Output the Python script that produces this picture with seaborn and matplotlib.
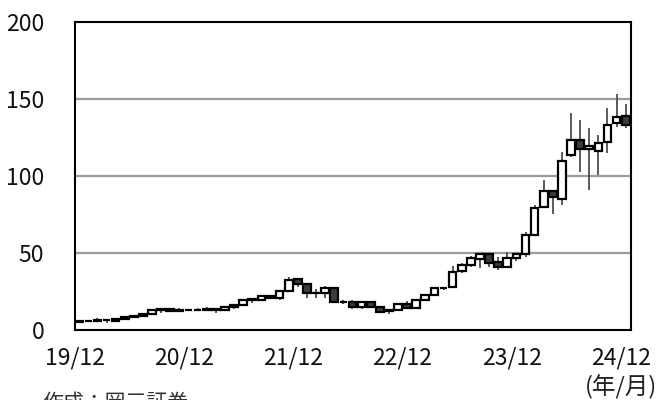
import numpy as np
import pandas as pd
import matplotlib
matplotlib.use("Agg")
import matplotlib.pyplot as plt
import seaborn as sns

# Monthly candles, 2019/12 - 2024/12 (split-adjusted, USD)
months = pd.period_range("2019-12", "2024-12", freq="M").strftime("%y/%m").tolist()

open_ = [5.42, 5.97, 5.95, 6.93, 6.17, 7.25, 8.95, 9.51, 10.90, 13.60, 13.70, 12.65,
         13.52, 13.12, 13.05, 13.75, 13.45, 14.93, 16.35, 20.03, 19.73, 22.55, 20.78, 25.78,
         33.40, 29.80, 24.50, 24.40, 27.40, 18.70, 18.60, 15.20, 18.40, 14.90, 12.30, 13.40,
         16.90, 14.40, 19.60, 23.00, 27.50, 27.80, 38.40, 42.50, 46.50, 49.70, 44.00, 40.90,
         46.60, 49.20, 62.10, 80.00, 90.30, 85.20, 113.60, 123.50, 117.50, 116.20, 121.80, 134.70,
         139.20]
high = [6.00, 6.47, 7.90, 7.25, 7.60, 9.12, 9.80, 10.92, 13.57, 14.74, 14.37, 14.60,
        13.75, 14.63, 15.35, 14.00, 16.13, 16.40, 20.25, 20.88, 23.00, 23.05, 25.65, 34.62,
        34.20, 30.70, 26.60, 28.90, 27.90, 19.80, 19.50, 19.00, 19.20, 14.00, 13.80, 17.00,
        18.80, 20.00, 23.80, 27.90, 28.20, 41.90, 43.90, 48.10, 50.20, 49.90, 47.60, 50.50,
        50.40, 63.50, 81.50, 97.40, 90.50, 115.80, 140.80, 136.20, 131.30, 126.50, 144.40, 152.90,
        146.60]
low = [5.15, 5.70, 5.90, 4.50, 5.95, 7.10, 8.50, 9.35, 10.70, 11.53, 12.30, 12.60,
       12.44, 12.60, 12.90, 11.51, 13.33, 13.71, 16.21, 17.66, 19.01, 20.51, 19.62, 25.51,
       28.30, 20.90, 20.90, 20.90, 18.40, 16.90, 14.00, 14.00, 15.00, 12.00, 10.80, 13.30,
       14.00, 14.00, 19.30, 22.20, 26.20, 27.20, 37.30, 40.90, 40.30, 41.00, 39.20, 40.90,
       45.00, 47.30, 61.60, 79.40, 75.60, 81.20, 112.60, 102.70, 90.70, 101.00, 115.10, 132.10,
       131.00]
close = [5.88, 5.91, 6.75, 6.59, 7.31, 8.87, 9.50, 10.62, 13.38, 13.53, 12.53, 13.40,
         13.05, 12.99, 13.71, 13.35, 15.01, 16.25, 20.00, 19.50, 22.39, 20.72, 25.57, 32.68,
         30.00, 24.49, 24.39, 27.29, 18.55, 18.67, 15.16, 18.16, 15.09, 12.14, 13.50, 16.92,
         14.61, 19.54, 23.22, 27.78, 27.75, 37.83, 42.30, 46.73, 49.36, 43.50, 40.78, 46.77,
         49.52, 61.53, 79.11, 90.36, 86.40, 109.63, 123.54, 117.30, 119.37, 121.44, 132.76, 138.25,
         132.80]

tick_labels = ["19/12", "20/12", "21/12", "22/12", "23/12", "24/12"]
y_ticks = [0, 50, 100, 150, 200]

df = pd.DataFrame({"month": months, "open": open_, "high": high,
                   "low": low, "close": close})
df["x"] = np.arange(len(df)) + 0.5
df["up"] = df["close"] >= df["open"]

sns.set_style("white")
plt.rcParams["font.family"] = ["Noto Sans CJK JP", "DejaVu Sans"]

fig = plt.figure(figsize=(6.58, 4.00), dpi=100)
ax = fig.add_axes([0.1135, 0.174, 0.845, 0.7717])

# horizontal guide lines
for v in y_ticks[1:-1]:
    ax.axhline(v, color="#9a9a9a", lw=1.6, zorder=1)

# wicks
ax.vlines(df["x"], df["low"], df["high"], color="#5a5a5a", lw=1.4, zorder=2)

# bodies
ax.bar(df["x"], df["close"] - df["open"], bottom=df["open"], width=0.84,
       color=np.where(df["up"], "white", "#3c3c3c"),
       edgecolor="black", linewidth=1.6, zorder=3)

ax.set_xlim(0, 61.05)
ax.set_ylim(0, 200)
ax.set_xticks(np.arange(0, 61, 12))
ax.set_xticklabels(tick_labels)
ax.set_yticks(y_ticks)
ax.tick_params(axis="both", direction="out", length=5, width=1.3, color="black",
               labelsize=16.5, labelcolor="#111111")
ax.tick_params(axis="y", pad=17)
ax.tick_params(axis="x", pad=6.5)
for s in ax.spines.values():
    s.set_visible(True)
    s.set_color("black")
    s.set_linewidth(1.5)
ax.grid(False)

fig.text(0.999, 0.033, "(年/月)", ha="right", va="center", fontsize=17,
         color="#222222")
fig.text(0.064, 0.02, "作成：岡三証券", ha="left", va="top", fontsize=15,
         color="#333333")

fig.savefig("out.png", dpi=100)
